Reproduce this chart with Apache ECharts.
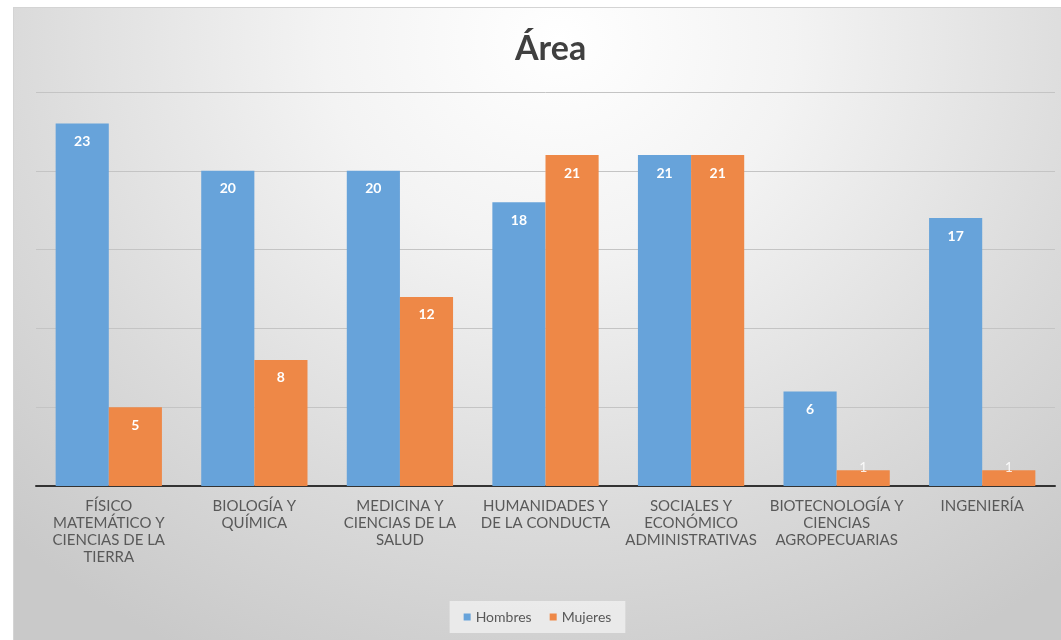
<!DOCTYPE html>
<html><head><meta charset="utf-8">
<script src="https://cdn.jsdelivr.net/npm/echarts@6/dist/echarts.min.js"></script>
<style>
html,body{margin:0;padding:0;background:#fff;width:1061px;height:640px;overflow:hidden;}
#wrap{position:absolute;left:13px;top:7px;width:1048px;height:633px;box-sizing:border-box;border-left:1px solid #d4d4d4;border-top:1px solid #d4d4d4;
background:radial-gradient(ellipse 75% 110% at 52% 5%, #ffffff 0%, #f3f3f3 30%, #dadada 70%, #c9c9c9 100%);}
#chart{width:1047px;height:632px;}
</style></head>
<body><div id="wrap"><div id="chart"></div></div>
<script>
const categories = [
  "FÍSICO\nMATEMÁTICO Y\nCIENCIAS DE LA\nTIERRA",
  "BIOLOGÍA Y\nQUÍMICA",
  "MEDICINA Y\nCIENCIAS DE LA\nSALUD",
  "HUMANIDADES Y\nDE LA CONDUCTA",
  "SOCIALES Y\nECONÓMICO\nADMINISTRATIVAS",
  "BIOTECNOLOGÍA Y\nCIENCIAS\nAGROPECUARIAS",
  "INGENIERÍA"
];
const hombres = [23, 20, 20, 18, 21, 6, 17];
const mujeres = [5, 8, 12, 21, 21, 1, 1];
const seriesNames = ["Hombres", "Mujeres"];

const chart = echarts.init(document.getElementById('chart'), null, {renderer:'canvas'});
const font = 'Lato, "Open Sans", sans-serif';
const lbl = {show:true, position:'insideTop', distance:11, color:'#ffffff', fontWeight:'bold', fontSize:14, fontFamily:font};
function withLabels(arr){
  return arr.map(v => v < 3 ? {value:v, label:{position:'top', distance:-4, color:'rgba(255,255,255,0.85)', fontWeight:'normal'}} : v);
}
chart.setOption({
  backgroundColor:'transparent',
  animation:false,
  title:{text:'Área', left:496, top:19, textStyle:{fontSize:34, fontWeight:'bold', color:'#404040', fontFamily:font}},
  grid:{left:22, right:6, top:84, bottom:154, containLabel:false},
  legend:{data:seriesNames, bottom:7, left:'center', itemWidth:7, itemHeight:7, itemGap:18, icon:'rect',
    padding:[9,14], backgroundColor:'rgba(240,240,240,0.8)',
    textStyle:{color:'#595959', fontSize:14, fontFamily:font}},
  xAxis:{type:'category', data:categories,
    axisLine:{lineStyle:{color:'#333333', width:2}}, axisTick:{show:false},
    axisLabel:{color:'#595959', fontSize:15, lineHeight:17, margin:12, interval:0, fontFamily:font}},
  yAxis:{type:'value', min:0, max:25, interval:5, axisLabel:{show:false}, axisLine:{show:false}, axisTick:{show:false},
    splitLine:{lineStyle:{color:'#c4c4c4', width:1}}},
  series:[
    {name:seriesNames[0], type:'bar', data:withLabels(hombres), barGap:'0%', barCategoryGap:'27%', itemStyle:{color:'#67a3da'}, label:lbl},
    {name:seriesNames[1], type:'bar', data:withLabels(mujeres), itemStyle:{color:'#ee8847'}, label:lbl}
  ]
});
</script></body></html>
